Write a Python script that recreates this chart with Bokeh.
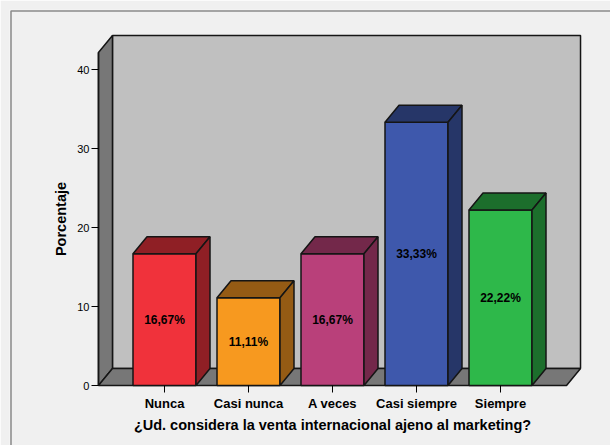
from bokeh.plotting import figure
from bokeh.models import LinearAxis, FixedTicker, Range1d, ColumnDataSource
from bokeh.core.properties import value
from bokeh.embed import file_html
from bokeh.resources import INLINE

# Survey answers and their share of respondents (%)
categories = ["Nunca", "Casi nunca", "A veces", "Casi siempre", "Siempre"]
percentages = [16.67, 11.11, 16.67, 33.33, 22.22]
front_colors = ["#F0323B", "#F7991F", "#B9407A", "#3E58AC", "#2EB84A"]
shade_colors = ["#8F1F25", "#955B14", "#73284A", "#263668", "#1C6E2C"]
y_ticks = [0, 10, 20, 30, 40]
x_title = "¿Ud. considera la venta internacional ajeno al marketing?"
y_title = "Porcentaje"

# Canvas geometry
W, H = 610, 445
LEFT, TOP = 9, 9
PX_X = 84.0          # pixels per category step
PX_Y = 7.9           # pixels per percentage point
ZERO_PX = 385        # vertical pixel of y = 0
FIRST_PX = 164       # horizontal pixel of the first category

x_start = 1 - (FIRST_PX - LEFT) / PX_X
x_end = x_start + (W - LEFT) / PX_X
y_end = (ZERO_PX - TOP) / PX_Y
y_start = y_end - (H - TOP) / PX_Y

# 3D depth offset, in data units
DX = 14 / PX_X
DY = 17 / PX_Y
BAR_HALF = 0.375
n = len(categories)
xl, xr = 1 - 0.786, n + 0.786   # floor extent
ytop = 42.15                     # wall height

FONT = value("Liberation Sans")
EDGE = "#151515"

p = figure(width=W, height=H, output_backend="svg", toolbar_location=None,
           x_range=Range1d(x_start, x_end), y_range=Range1d(y_start, y_end),
           x_axis_type=None, y_axis_type=None,
           min_border_left=LEFT, min_border_top=TOP,
           min_border_right=0, min_border_bottom=0)
p.outline_line_color = None
p.background_fill_color = "#F0F0F0"
p.border_fill_color = "#F0F0F0"

# outer chart border (top and left)
xb = x_start + 1.5 / PX_X
yb = y_end - 1.5 / PX_Y
p.line([xb, xb, x_end], [y_start, yb, yb], line_color="#8A8A8A", line_width=1.5)

# back wall
p.quad(left=[xl + DX], right=[xr + DX], bottom=[DY], top=[ytop + DY],
       fill_color="#C0C0C0", line_color=EDGE, line_width=1.5)
# left wall
p.patch([xl, xl, xl + DX, xl + DX], [0, ytop, ytop + DY, DY],
        fill_color="#777777", line_color=EDGE, line_width=1.5)
# floor
p.patch([xl, xr, xr + DX, xl + DX], [0, 0, DY, DY],
        fill_color="#777777", line_color=EDGE, line_width=1.5)

# bars: front face, top and side
xs = [i + 1 for i in range(n)]
src = ColumnDataSource(dict(
    x=xs, v=percentages, front=front_colors, shade=shade_colors,
    half=[v / 2 for v in percentages],
    label=[f"{v:.2f}".replace(".", ",") + "%" for v in percentages],
))
p.vbar(x="x", top="v", bottom=0, width=2 * BAR_HALF, source=src,
       fill_color="front", line_color=EDGE, line_width=1.5)

tops_x, tops_y, sides_x, sides_y = [], [], [], []
for x, v in zip(xs, percentages):
    a, b = x - BAR_HALF, x + BAR_HALF
    tops_x.append([a, b, b + DX, a + DX])
    tops_y.append([v, v, v + DY, v + DY])
    sides_x.append([b, b, b + DX, b + DX])
    sides_y.append([0, v, v + DY, DY])
p.patches(tops_x, tops_y, fill_color=shade_colors, line_color=EDGE, line_width=1.5)
p.patches(sides_x, sides_y, fill_color=shade_colors, line_color=EDGE, line_width=1.5)

p.text(x="x", y="half", text="label", source=src, text_font=FONT,
       text_font_style="bold", text_font_size="12px", text_color="#000000",
       text_align="center", text_baseline="middle")

# front edge of the left wall
p.line([xl, xl], [0, ytop], line_color=EDGE, line_width=1.5)

# axes
yaxis = LinearAxis(fixed_location=xl, bounds=(0, ytop), axis_label=y_title,
                   ticker=FixedTicker(ticks=y_ticks))
yaxis.axis_line_color = None
yaxis.major_tick_in = 0
yaxis.major_tick_out = 7
yaxis.minor_tick_line_color = None
yaxis.major_tick_line_color = "#000000"
yaxis.major_label_standoff = 2
yaxis.major_label_text_font = "Liberation Sans"
yaxis.major_label_text_font_size = "11px"
yaxis.major_label_text_color = "#000000"
yaxis.axis_label_text_font = "Liberation Sans"
yaxis.axis_label_text_font_style = "bold"
yaxis.axis_label_text_font_size = "14.5px"
yaxis.axis_label_text_color = "#000000"
yaxis.axis_label_standoff = 5
p.add_layout(yaxis, "left")

xaxis = LinearAxis(fixed_location=0, bounds=(xl, xr), axis_label=x_title,
                   ticker=FixedTicker(ticks=xs))
xaxis.major_label_overrides = {x: c for x, c in zip(xs, categories)}
xaxis.axis_line_color = None
xaxis.major_tick_in = 0
xaxis.major_tick_out = 7
xaxis.minor_tick_line_color = None
xaxis.major_tick_line_color = "#000000"
xaxis.major_label_standoff = 3
xaxis.major_label_text_font = "Liberation Sans"
xaxis.major_label_text_font_style = "bold"
xaxis.major_label_text_font_size = "13px"
xaxis.major_label_text_color = "#000000"
xaxis.axis_label_text_font = "Liberation Sans"
xaxis.axis_label_text_font_style = "bold"
xaxis.axis_label_text_font_size = "14.5px"
xaxis.axis_label_text_color = "#000000"
xaxis.axis_label_standoff = 3
p.add_layout(xaxis, "below")

open("out.html", "w").write(file_html(p, INLINE))
